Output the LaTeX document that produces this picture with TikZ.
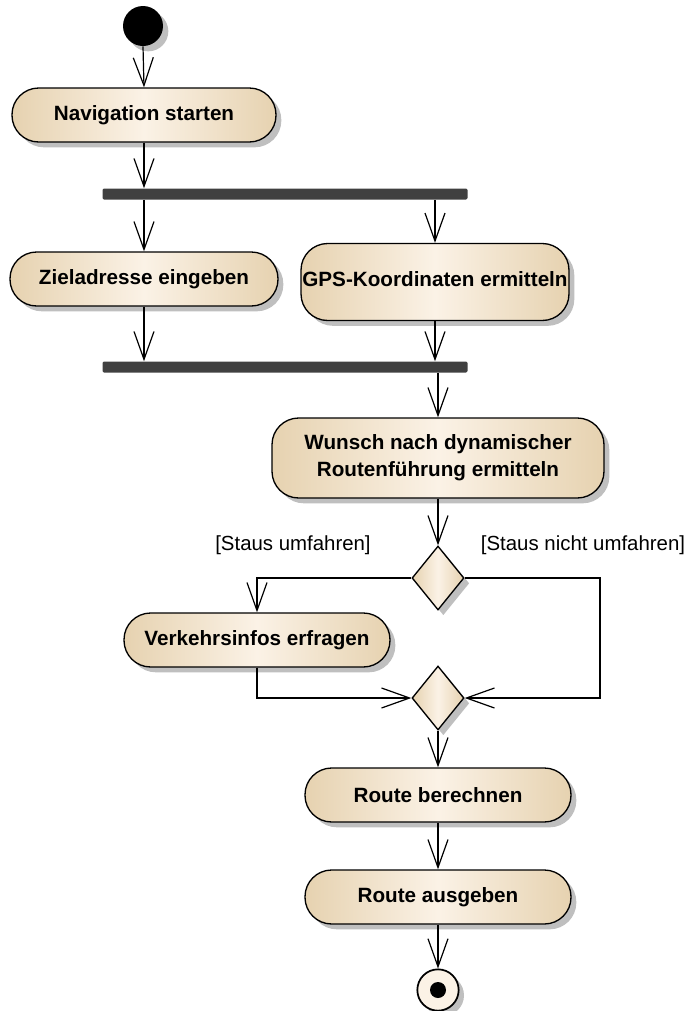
\documentclass[tikz,border=0pt]{standalone}
\usepackage{fontspec}
\setmainfont{Liberation Sans}
\usetikzlibrary{arrows.meta,shapes.geometric,shadows,calc}
\definecolor{tanE}{HTML}{E6D2B0}
\definecolor{tanC}{HTML}{FBF2E6}
\definecolor{barC}{HTML}{404040}
\begin{document}
\begin{tikzpicture}[x=0.75pt,y=-0.75pt,
  shad/.style={drop shadow={shadow xshift=4pt,shadow yshift=-4pt,fill=black!25,opacity=1}},
  act/.style={rectangle, rounded corners=20pt, draw=black, line width=1pt,
    left color=tanE, right color=tanE, middle color=tanC, shad,
    font=\fontsize{15.5}{20}\selectfont\bfseries, align=center, inner sep=0pt,
    minimum height=40.5pt},
  bar/.style={rectangle, fill=barC, rounded corners=1pt, minimum width=273.75pt, minimum height=8.25pt, inner sep=0pt},
  dec/.style={diamond, draw=black, line width=1pt, left color=tanE, right color=tanE, middle color=tanC,
    shad, minimum width=39pt, minimum height=48pt, inner sep=0pt},
  flow/.style={draw, line width=0.9pt, -{Straight Barb[length=21pt,width=15pt,line width=0.9pt]}},
  guard/.style={font=\fontsize{15.3}{18}\selectfont, inner sep=0pt}
]
\useasboundingbox (0,0) rectangle (691,1011);

\node[circle, fill=black, minimum size=30pt, inner sep=0pt, shad] (start) at (143,26) {};
\node[act, minimum width=198pt] (nav) at (144,115) {Navigation starten};
\node[bar] (bar1) at (285,194) {};
\node[act, minimum width=201pt] (ziel) at (144,279) {Zieladresse eingeben};
\node[act, minimum width=201pt, minimum height=57.75pt] (gps) at (435,282) {\raisebox{5pt}{GPS-Koordinaten ermitteln}};
\node[bar] (bar2) at (285,367) {};
\node[act, minimum width=249pt, minimum height=60pt] (wunsch) at (438,458) {Wunsch nach dynamischer\\Routenführung ermitteln};
\node[dec] (d1) at (438,578) {};
\node[act, minimum width=199.5pt] (ver) at (257,640) {Verkehrsinfos erfragen};
\node[dec] (d2) at (438,698) {};
\node[act, minimum width=199.5pt] (rb) at (438,795) {Route berechnen};
\node[act, minimum width=199.5pt] (ra) at (438,897) {Route ausgeben};
\node[circle, draw=black, line width=1.3pt, fill=tanC, minimum size=31pt, inner sep=0pt, shad,
  path picture={\fill[black] (path picture bounding box.center) circle (6pt);}] (end) at (438,990) {};

\node[guard] (g1) at (293,545) {[Staus umfahren]};
\node[guard] (g2) at (583,545) {[Staus nicht umfahren]};
\coordinate (rc) at (600,578);

\draw[flow] (start.south) -- (nav.north);
\draw[flow] (nav.south) -- (nav.south |- bar1.north);
\draw[flow] (ziel.north |- bar1.south) -- (ziel.north);
\draw[flow] (gps.north |- bar1.south) -- (gps.north);
\draw[flow] (ziel.south) -- (ziel.south |- bar2.north);
\draw[flow] (gps.south) -- (gps.south |- bar2.north);
\draw[flow] (wunsch.north |- bar2.south) -- (wunsch.north);
\draw[flow] (wunsch.south) -- (d1.north);
\draw[flow] (d1.west) -| (ver.north);
\draw[flow] (d1.east) -- (rc) |- (d2.east);
\draw[flow] (ver.south) |- (d2.west);
\draw[flow] (d2.south) -- (rb.north);
\draw[flow] (rb.south) -- (ra.north);
\draw[flow] (ra.south) -- (end.north);
\end{tikzpicture}
\end{document}
